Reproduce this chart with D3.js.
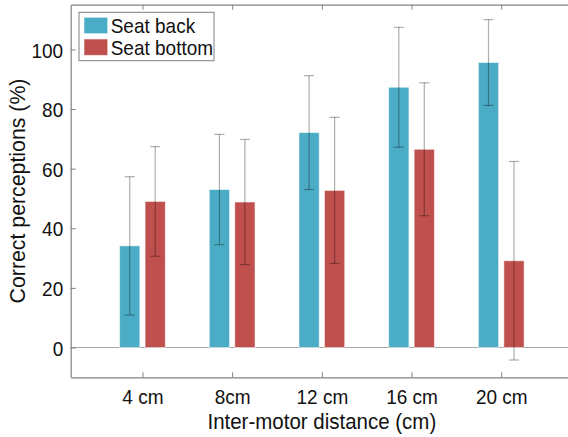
<!DOCTYPE html>
<html><head><meta charset="utf-8">
<script src="https://cdn.jsdelivr.net/npm/d3@7"></script>
<style>
html,body{margin:0;padding:0;background:#fff;}
svg{display:block;font-family:"Liberation Sans",Arial,Helvetica,sans-serif;}
</style></head>
<body>
<svg id="chart" width="568" height="437"></svg>
<script>
const categories = ["4 cm", "8cm", "12 cm", "16 cm", "20 cm"];
const seriesNames = ["Seat back", "Seat bottom"];
const seatBack = [34.1, 53.0, 72.1, 87.3, 95.6];
const seatBackErr = [23.2, 18.5, 19.1, 20.1, 14.4];
const seatBottom = [49.0, 48.8, 52.7, 66.5, 29.1];
const seatBottomErr = [18.4, 21.0, 24.5, 22.3, 33.3];
const yTicks = [0, 20, 40, 60, 80, 100];
const colors = ["#4BACC6", "#C0504D"];

const svg = d3.select("#chart");
const x = d3.scaleLinear().domain([0.2, 5.8]).range([70.7, 573]);
const y = d3.scaleLinear().domain([-10, 115]).range([377.3, 4.7]);
const axisColor = "#808080";
const textColor = "#111";
const sy = 1.1; // vertical stretch of text as in the reference

const series = [
  {name: seriesNames[0], vals: seatBack, err: seatBackErr, off: -0.142, color: colors[0]},
  {name: seriesNames[1], vals: seatBottom, err: seatBottomErr, off: 0.142, color: colors[1]}
];
const bw = 0.226;

// zero line
svg.append("line").attr("x1", x(0.2)).attr("x2", 568).attr("y1", y(0)).attr("y2", y(0))
  .attr("stroke", "#a6a6a6").attr("stroke-width", 1.2);

// bars
series.forEach(s => {
  svg.append("g").selectAll("rect").data(s.vals).join("rect")
    .attr("x", (d, i) => x(i + 1 + s.off - bw / 2))
    .attr("width", x(bw) - x(0))
    .attr("y", d => y(d))
    .attr("height", d => y(0) - y(d))
    .attr("fill", s.color)
    .attr("stroke", "rgba(255,255,255,0.55)")
    .attr("stroke-width", 1);
});

// error bars
series.forEach(s => {
  const g = svg.append("g").attr("stroke", "rgba(0,0,0,0.32)").attr("stroke-width", 1.2);
  s.vals.forEach((v, i) => {
    const cx = x(i + 1 + s.off);
    const hi = y(v + s.err[i]), lo = y(v - s.err[i]);
    g.append("line").attr("x1", cx).attr("x2", cx).attr("y1", hi).attr("y2", lo);
    g.append("line").attr("x1", cx - 5).attr("x2", cx + 5).attr("y1", hi).attr("y2", hi);
    g.append("line").attr("x1", cx - 5).attr("x2", cx + 5).attr("y1", lo).attr("y2", lo);
  });
});

// axes (box, ticks inward)
const xb = d3.axisBottom(x).tickValues([1, 2, 3, 4, 5]).tickFormat((d, i) => categories[i])
  .tickSizeInner(-5).tickSizeOuter(0).tickPadding(0);
const gx = svg.append("g").attr("transform", `translate(0,${y(-10)})`).call(xb);
gx.select(".domain").attr("stroke", axisColor).attr("stroke-width", 1.2);
gx.selectAll(".tick line").attr("stroke", axisColor);
gx.selectAll(".tick text").attr("fill", textColor).style("font-size", "19px")
  .attr("y", 0).attr("dy", null)
  .attr("transform", `translate(0,26.5) scale(1,${sy})`);

const xt = d3.axisTop(x).tickValues([1, 2, 3, 4, 5]).tickFormat("").tickSizeInner(-5).tickSizeOuter(0);
const gxt = svg.append("g").attr("transform", `translate(0,${y(115)})`).call(xt);
gxt.select(".domain").attr("stroke", axisColor).attr("stroke-width", 1.2);
gxt.selectAll(".tick line").attr("stroke", axisColor);

const yl = d3.axisLeft(y).tickValues(yTicks).tickSizeInner(-5).tickSizeOuter(0).tickPadding(0);
const gy = svg.append("g").attr("transform", `translate(${x(0.2)},0)`).call(yl);
gy.select(".domain").attr("stroke", axisColor).attr("stroke-width", 1.2);
gy.selectAll(".tick line").attr("stroke", axisColor);
gy.selectAll(".tick text").attr("fill", textColor).style("font-size", "19px")
  .attr("x", 0).attr("dy", null).attr("y", 0)
  .attr("transform", `translate(-7.5,7.6) scale(1,${sy})`);

// axis labels
svg.append("text").attr("transform", `translate(${(x(0.2) + x(5.8)) / 2},429) scale(1,${sy})`)
  .attr("text-anchor", "middle").attr("fill", textColor).style("font-size", "20.5px")
  .text("Inter-motor distance (cm)");
svg.append("text").attr("transform", `translate(25,${(y(-10) + y(115)) / 2}) rotate(-90)`)
  .attr("text-anchor", "middle").attr("fill", textColor).style("font-size", "21.3px")
  .text("Correct perceptions (%)");

// legend
const lg = svg.append("g");
lg.append("rect").attr("x", 79).attr("y", 12.3).attr("width", 135).attr("height", 48.4)
  .attr("fill", "#fff").attr("stroke", axisColor).attr("stroke-width", 1);
series.forEach((s, i) => {
  lg.append("rect").attr("x", 84).attr("y", 17.3 + i * 21.7).attr("width", 23.7).attr("height", 16.4)
    .attr("fill", s.color).attr("stroke", "rgba(255,255,255,0.55)");
  lg.append("text").attr("transform", `translate(110.7,${32.8 + i * 21.7}) scale(1,${sy})`)
    .attr("fill", textColor).style("font-size", "19px").text(s.name);
});
</script>
</body></html>
